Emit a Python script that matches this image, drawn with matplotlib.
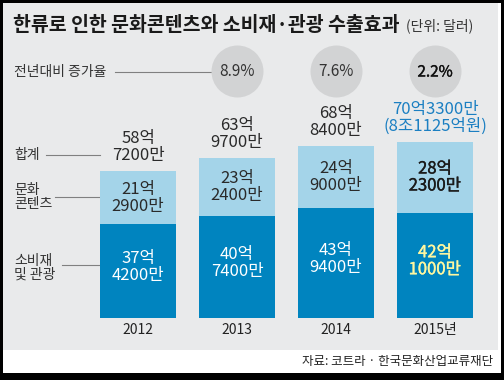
import numpy as np
import matplotlib.pyplot as plt
from matplotlib.patches import Rectangle
from matplotlib import transforms
import matplotlib.patheffects as pe

plt.rcParams['font.family'] = ['Noto Sans CJK KR', 'DejaVu Sans']

# values in 만 달러
years = ['2012', '2013', '2014', '2015년']
consumer = [374200, 407400, 439400, 421000]   # 소비재 및 관광
culture = [212900, 232400, 249000, 282300]    # 문화 콘텐츠
totals = [587200, 639700, 688400, 703300]     # 합계
total_krw = '(8조1125억원)'
growth = ['8.9%', '7.6%', '2.2%']             # 2013~2015 전년대비 증가율

W, H = 504, 380
DARK = '#0084bf'
LIGHT = '#a4d4e9'
PANEL = '#e9eaeb'


def fmt(v):
    return f"{v // 10000}억\n{v % 10000}만"


def px(x, y):
    return x / W, 1 - y / H


def heavy(c):
    # slightly heavier than regular, for the 2015 numbers
    return [pe.withStroke(linewidth=0.25, foreground=c)]


fig = plt.figure(figsize=(W / 100, H / 100), dpi=100, facecolor='black')
ax = fig.add_axes([0, 0, 1, 1])
ax.set_axis_off()
# bar centre 0 at 138px, 99px per bar, 2.5px per 억, baseline at 318px
ax.set_xlim(-138 / 99, (W - 138) / 99)
ax.set_ylim(-(H - 318) / 2.5, 318 / 2.5)

# frame
ax.add_patch(Rectangle(px(3, 373), 498 / W, 370 / H, transform=ax.transAxes,
                       facecolor='white', edgecolor='none', zorder=0))
ax.add_patch(Rectangle(px(3, 350), 495 / W, 347 / H, transform=ax.transAxes,
                       facecolor=PANEL, edgecolor='none', zorder=0))

x = np.arange(len(years))
dark = np.array(consumer) / 10000
light = np.array(culture) / 10000
tot = np.array(totals) / 10000
bw = 76 / 99
ax.bar(x, dark, width=bw, color=DARK, zorder=2)
ax.bar(x, light, bottom=dark, width=bw, color=LIGHT, zorder=2)

for i in x:
    last = i == len(years) - 1
    c1 = '#fff7a0' if last else 'white'
    c2 = '#1a1a1a' if last else '#2a2a2a'
    ax.annotate(fmt(consumer[i]), (i, dark[i] / 2), xytext=(0, 3), textcoords='offset points',
                ha='center', va='center', fontsize=12, linespacing=1.0, color=c1, zorder=3,
                path_effects=heavy(c1) if last else None)
    ax.annotate(fmt(culture[i]), (i, dark[i] + light[i] / 2), ha='center', va='center',
                fontsize=12, linespacing=1.0, color=c2, zorder=3,
                path_effects=heavy(c2) if last else None)
    if last:
        s = f"{totals[i] // 10000}억{totals[i] % 10000}만\n{total_krw}"
        ax.annotate(s, (i, dark[i] + light[i]), xytext=(0, 5), textcoords='offset points',
                    ha='center', va='bottom', fontsize=12, linespacing=1.0,
                    color='#1b7fc2', zorder=3)
    else:
        ax.annotate(fmt(totals[i]), (i, tot[i]), xytext=(0, 5), textcoords='offset points',
                    ha='center', va='bottom', fontsize=12, linespacing=1.0,
                    color='#2a2a2a', zorder=3)
    ax.annotate(years[i], (i, 0), xytext=(0, -8.6), textcoords='offset points',
                ha='center', va='center', fontsize=10, color='#222222')

# growth circles
bt = transforms.blended_transform_factory(ax.transData, ax.transAxes)
gx = x[1:]
ax.scatter(gx, [1 - 71 / H] * len(gx), s=(52 * 0.72) ** 2, color='#d2d3d4',
           transform=bt, zorder=2, linewidths=0)
for i, g in zip(gx, growth):
    last = i == gx[-1]
    ax.text(i, 1 - 72 / H, g, transform=bt, ha='center', va='center', fontsize=11,
            color='#111111' if last else '#333333', zorder=3,
            path_effects=heavy('#111111') if last else None)

# title
ax.text(*px(13, 25), '한류로 인한 문화콘텐츠와 소비재·관광 수출효과', transform=ax.transAxes,
        ha='left', va='center', fontsize=14, weight='bold', color='#1a1a1a')
ax.text(*px(406, 26), '(단위: 달러)', transform=ax.transAxes, ha='left', va='center',
        fontsize=10, color='#333333')

# left labels and leader lines
lab = dict(transform=ax.transAxes, ha='left', va='center', fontsize=10, color='#333333',
           linespacing=1.0)
line = dict(transform=ax.transAxes, color='#808080', lw=0.8, zorder=1)
ax.text(*px(14, 72), '전년대비 증가율', **lab)
ax.plot(*zip(px(115, 72), px(211, 72)), **line)
ax.text(*px(14, 155), '합계', **lab)
ax.plot(*zip(px(46, 155), px(100, 155)), **line)
ax.text(*px(14, 197), '문화\n콘텐츠', **lab)
ax.plot(*zip(px(55, 197), px(100, 197)), **line)
ax.text(*px(14, 268), '소비재\n및 관광', **lab)
ax.plot(*zip(px(62, 265), px(100, 265)), **line)

ax.text(*px(493, 362), '자료: 코트라 · 한국문화산업교류재단', transform=ax.transAxes,
        ha='right', va='center', fontsize=9, color='#222222')

fig.savefig('out.png', dpi=100, facecolor=fig.get_facecolor())
